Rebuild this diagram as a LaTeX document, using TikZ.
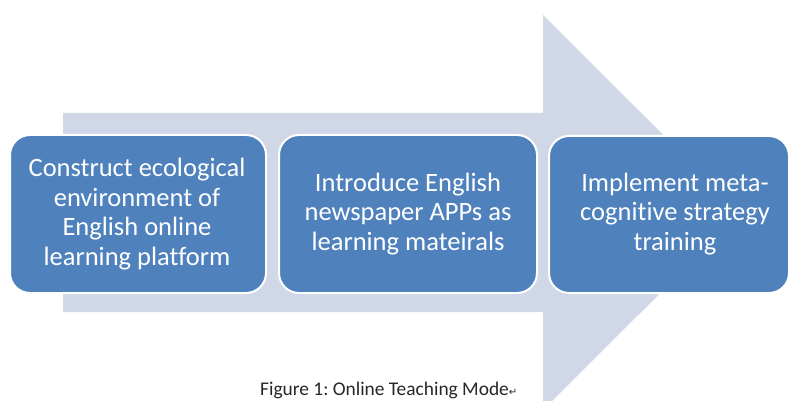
\documentclass[tikz,border=0pt]{standalone}
\usepackage{fontspec}
\setmainfont{Carlito}[Ligatures=NoCommon]
\newfontfamily\symfont{DejaVu Sans}
\frenchspacing
\begin{document}
\begin{tikzpicture}[x=1pt,y=-1pt,
  flowbox/.style={fill=boxblue, draw=white, line width=2pt, rounded corners=20pt},
  boxtext/.style={text=white, align=center, font=\fontsize{26.5}{29.5}\selectfont, inner sep=0pt},
  captiontext/.style={text=captiongray, font=\fontsize{19.4}{22}\selectfont, inner sep=0pt, anchor=base west}]
\definecolor{boxblue}{HTML}{4F81BD}
\definecolor{arrowgray}{HTML}{D0D8E8}
\definecolor{captiongray}{HTML}{262626}
\useasboundingbox (0,0) rectangle (790,401);
\begin{scope}
\clip (0,0) rectangle (790,401);
% large background arrow
\fill[arrowgray] (63,113) -- (543,113) -- (543,15) -- (741,212.5)
  -- (543,410) -- (543,312) -- (63,312) -- cycle;
% three process steps
\draw[flowbox] (10,135) rectangle (266,293);
\draw[flowbox] (279,135) rectangle (537,293);
\draw[flowbox] (549,136) rectangle (789,293);
\end{scope}
\node[boxtext] (s1) at (137,214) {Construct ecological\\environment of\\English online\\learning platform};
\node[boxtext] (s2) at (408,214) {Introduce English\\newspaper APPs as\\learning mateirals};
\node[boxtext] (s3) at (675,214) {Implement meta-\\cognitive strategy\\training};
\node[captiontext] (cap) at (260,395) {Figure 1: Online Teaching Mode{\symfont\fontsize{10}{11}\selectfont ↵}};
\end{tikzpicture}
\end{document}
